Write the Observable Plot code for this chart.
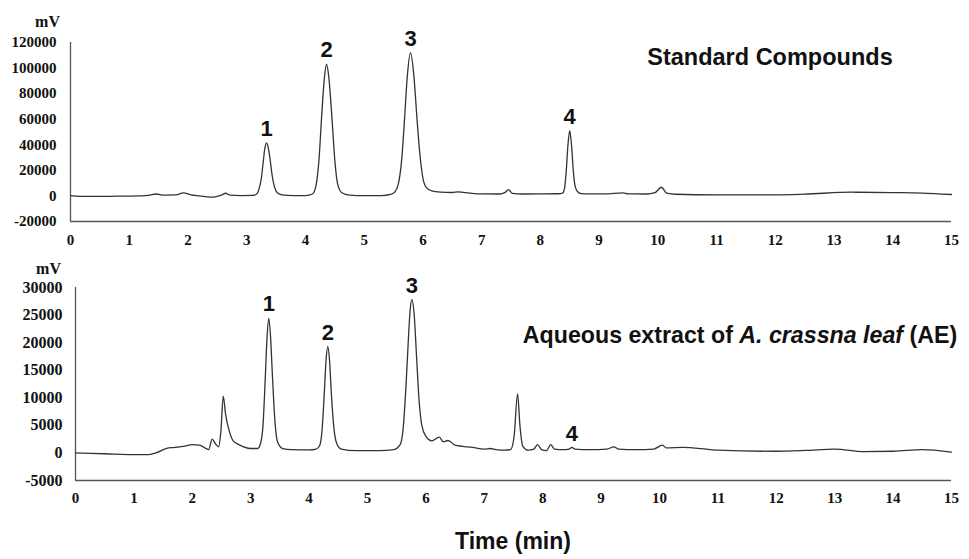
<!DOCTYPE html>
<html>
<head>
<meta charset="utf-8">
<script src="https://cdn.jsdelivr.net/npm/d3@7"></script>
<script src="https://cdn.jsdelivr.net/npm/@observablehq/plot@0.6"></script>
<style>
  html, body { margin: 0; padding: 0; background: #fff; }
  #wrap { position: relative; width: 969px; height: 559px; overflow: hidden; background: #fff; }
  #top, #bottom { position: absolute; left: 0; }
  #top { top: 0; }
  #bottom { top: 250px; }
  #xlabel { position: absolute; left: 513px; top: 541px; transform: translate(-50%, -50%);
    font-family: "Liberation Sans", Arial, sans-serif; font-weight: bold; font-size: 23px; color: #111; white-space: nowrap; }
</style>
</head>
<body>
<div id="wrap">
  <div id="top"></div>
  <div id="bottom"></div>
  <div id="xlabel">Time (min)</div>
</div>
<script>
// ---------- data ----------
const xTicks = [0, 1, 2, 3, 4, 5, 6, 7, 8, 9, 10, 11, 12, 13, 14, 15];
const topYTicks = [-20000, 0, 20000, 40000, 60000, 80000, 100000, 120000];
const botYTicks = [-5000, 0, 5000, 10000, 15000, 20000, 25000, 30000];

// Standard compounds chromatogram: [time (min), signal (mV)]
const standardTrace = [
  [0, 300], [0.3, -400], [0.8, -200], [1.2, 0], [1.35, 600], [1.45, 1500], [1.6, 700], [1.8, 800],
  [1.92, 2400], [2.05, 800], [2.2, 0], [2.38, -1000], [2.5, -300], [2.58, 800], [2.64, 2100], [2.72, 600],
  [2.9, 300], [3.1, 400], [3.17, 1500], [3.21, 5500], [3.25, 14000], [3.28, 26000], [3.31, 37500],
  [3.34, 41500], [3.37, 37000], [3.40, 28000], [3.43, 17000], [3.47, 7500], [3.52, 2500], [3.6, 800],
  [3.8, 300], [4.0, 300], [4.12, 1500], [4.18, 8000], [4.23, 28000], [4.28, 65000], [4.32, 91000],
  [4.36, 103000], [4.40, 92000], [4.45, 62000], [4.50, 28000], [4.55, 9000], [4.62, 2500], [4.75, 700],
  [5.0, 300], [5.3, 300], [5.45, 1200], [5.52, 3000], [5.58, 9000], [5.64, 29000], [5.69, 62000],
  [5.73, 91000], [5.79, 112000], [5.85, 92000], [5.90, 60000], [5.95, 32000], [6.00, 14000],
  [6.06, 6500], [6.15, 4000], [6.3, 3000], [6.5, 2700], [6.6, 3100], [6.8, 2200], [7.0, 1600],
  [7.3, 1500], [7.4, 2800], [7.46, 5000], [7.52, 2000], [7.7, 1500], [8.0, 1600], [8.3, 1700],
  [8.38, 2200], [8.41, 5500], [8.44, 19000], [8.47, 40000], [8.50, 51000], [8.53, 40000],
  [8.56, 20000], [8.59, 8000], [8.63, 3500], [8.7, 1800], [8.8, 1600], [9.1, 1600], [9.4, 2400],
  [9.5, 1600], [9.8, 1500], [9.95, 2500], [10.06, 6800], [10.15, 2200], [10.3, 1300], [11, 900],
  [12, 900], [12.5, 1400], [13.3, 2900], [14, 2600], [14.5, 2200], [15, 1100]
];

// Aqueous extract chromatogram: [time (min), signal (mV)]
const extractTrace = [
  [0, 0], [0.5, -150], [1.0, -300], [1.25, -300], [1.4, 100], [1.55, 800], [1.7, 1000], [1.85, 1200],
  [2.0, 1500], [2.12, 1400], [2.22, 900], [2.28, 600], [2.34, 2500], [2.40, 1600], [2.45, 1100],
  [2.49, 4000], [2.53, 10300], [2.57, 7000], [2.62, 4500], [2.7, 2200], [2.8, 1500], [3.0, 800],
  [3.12, 800], [3.17, 1800], [3.21, 4900], [3.25, 13700], [3.28, 21000], [3.31, 24400], [3.34, 21000],
  [3.37, 14500], [3.41, 6500], [3.46, 2000], [3.55, 800], [3.7, 600], [4.0, 550], [4.12, 700],
  [4.18, 1300], [4.22, 3900], [4.26, 10800], [4.29, 16800], [4.32, 19300], [4.35, 16800], [4.38, 11000],
  [4.42, 5000], [4.47, 1800], [4.55, 700], [4.8, 400], [5.2, 400], [5.45, 600], [5.56, 1500],
  [5.61, 4400], [5.66, 12300], [5.70, 20600], [5.73, 25900], [5.76, 27800], [5.80, 25000],
  [5.84, 17500], [5.88, 10000], [5.93, 5000], [6.0, 3000], [6.1, 2200], [6.23, 2850], [6.3, 2000],
  [6.38, 2250], [6.5, 1400], [6.8, 1000], [7.0, 700], [7.1, 800], [7.2, 600], [7.35, 500], [7.45, 600],
  [7.51, 3000], [7.57, 10700], [7.61, 5000], [7.66, 1200], [7.75, 500], [7.85, 700], [7.91, 1500],
  [7.98, 600], [8.06, 400], [8.14, 1500], [8.2, 700], [8.35, 600], [8.45, 700], [8.5, 1000], [8.55, 700],
  [8.8, 600], [9.1, 700], [9.22, 1100], [9.3, 700], [9.6, 600], [9.9, 700], [10.05, 1400], [10.12, 900],
  [10.4, 1000], [10.8, 700], [11, 500], [12, 300], [12.5, 450], [13, 700], [13.5, 250], [14, 300],
  [14.5, 600], [15, 150]
];

const standardPeaks = [
  {n: "1", t: 3.34, v: 41500}, {n: "2", t: 4.36, v: 103000},
  {n: "3", t: 5.79, v: 112000}, {n: "4", t: 8.50, v: 51000}
];
const extractPeaks = [
  {n: "1", t: 3.31, v: 24400}, {n: "2", t: 4.32, v: 19300},
  {n: "3", t: 5.76, v: 27800}, {n: "4", t: 8.50, v: 900}
];

const standardTitle = {text: "Standard Compounds", t: 9.82, v: 108000};
const extractTitleParts = [
  {s: "Aqueous extract of ", style: "normal"},
  {s: "A. crassna leaf", style: "italic"},
  {s: " (AE)", style: "normal"}
];
const extractTitlePos = {t: 7.66, v: 21300};
const unitLabel = "mV";

// ---------- drawing ----------
const serif = "'Liberation Serif', 'Times New Roman', serif";
const sans = "'Liberation Sans', Arial, sans-serif";
const lineColor = "#333";
const axisColor = "#555";

function panel({trace, peaks, yTicks, yDomain, height, mt, mb, ml, yPad, xPad, titleMarks, unitDx, unitDy}) {
  return Plot.plot({
    width: 969,
    height,
    marginTop: mt,
    marginBottom: mb,
    marginLeft: ml,
    marginRight: 18,
    style: {fontFamily: serif, fontWeight: "bold", fontSize: "15px", color: "#111", background: "transparent", overflow: "visible"},
    x: {domain: [0, 15], ticks: xTicks, tickSize: 0, tickPadding: xPad, tickFormat: d => String(d), label: null},
    y: {domain: yDomain, ticks: yTicks, tickSize: 0, tickPadding: yPad, tickFormat: d => String(d), label: null},
    marks: [
      Plot.ruleX([0], {stroke: axisColor, strokeWidth: 1.3}),
      Plot.ruleY([yDomain[0]], {stroke: axisColor, strokeWidth: 1.3}),
      Plot.line(trace, {x: d => d[0], y: d => d[1], curve: "monotone-x", stroke: lineColor, strokeWidth: 1.3}),
      Plot.text(peaks, {x: "t", y: "v", text: "n", dy: -14, fontFamily: sans, fontWeight: "bold", fontSize: 22, fill: "#111"}),
      Plot.text([unitLabel], {frameAnchor: "top-left", textAnchor: "middle", lineAnchor: "middle", dx: unitDx, dy: unitDy, fontFamily: serif, fontWeight: "bold", fontSize: 16, fill: "#111"}),
      ...titleMarks
    ]
  });
}

const topChart = panel({
  trace: standardTrace, peaks: standardPeaks, yTicks: topYTicks, yDomain: [-20000, 120000],
  height: 250, mt: 42, mb: 29, ml: 70, yPad: 14, xPad: 13, unitDx: -23, unitDy: -21,
  titleMarks: [
    Plot.text([standardTitle], {x: "t", y: "v", text: "text", textAnchor: "start", fontFamily: sans, fontWeight: "bold", fontSize: 23.5, fill: "#111"})
  ]
});

const extractTitleText = extractTitleParts.map(p => p.s).join("");
const bottomChart = panel({
  trace: extractTrace, peaks: extractPeaks, yTicks: botYTicks, yDomain: [-5000, 30000],
  height: 260, mt: 37, mb: 30, ml: 75, yPad: 13, xPad: 12, unitDx: -27, unitDy: -19,
  titleMarks: [
    Plot.text([extractTitlePos], {x: "t", y: "v", text: () => extractTitleText, textAnchor: "start", fontFamily: sans, fontWeight: "bold", fontSize: 23.2, fill: "#111"})
  ]
});

document.getElementById("top").appendChild(topChart);
document.getElementById("bottom").appendChild(bottomChart);

// bottom y tick labels are a bit larger in the reference
d3.select(bottomChart).selectAll("g[aria-label='y-axis tick label'] text, g[aria-label='y-axis'] text").style("font-size", "16px");

// rebuild the extract title with an italic species name
d3.select(bottomChart).selectAll("text").filter(function () { return this.textContent === extractTitleText; })
  .each(function () {
    const t = d3.select(this);
    t.text(null);
    extractTitleParts.forEach(p => t.append("tspan").attr("font-style", p.style).text(p.s));
  });
</script>
</body>
</html>
